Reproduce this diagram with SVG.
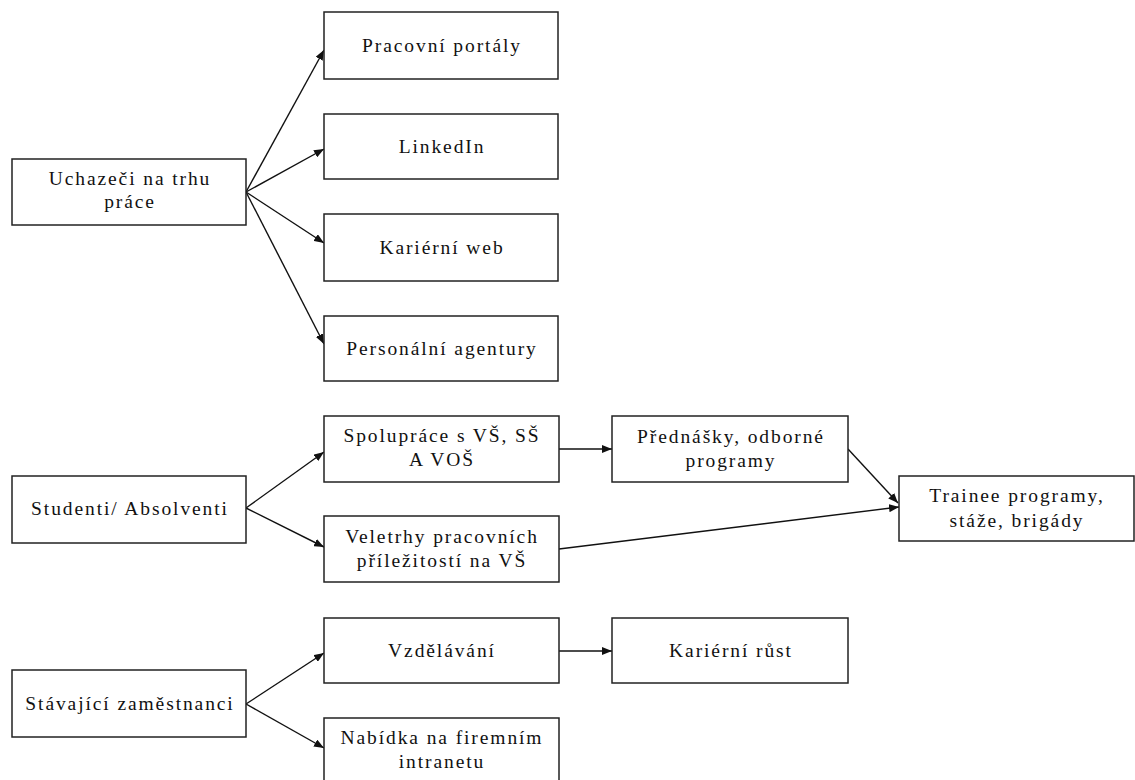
<svg xmlns="http://www.w3.org/2000/svg" width="1135" height="780" viewBox="0 0 1135 780">
<defs>
<marker id="ah" viewBox="0 0 10 8" refX="10" refY="4" markerWidth="10" markerHeight="8" markerUnits="userSpaceOnUse" orient="auto">
<path d="M0,0 L10,4 L0,8 z" fill="#111"/>
</marker>
<style>
.box{fill:#fff;stroke:#222;stroke-width:1.5}
.t{font-family:"Liberation Serif","Times New Roman",serif;font-size:19.5px;letter-spacing:1.9px;fill:#111;text-anchor:middle}
.c{fill:none;stroke:#111;stroke-width:1.4;marker-end:url(#ah)}
</style>
</defs>
<rect width="1135" height="780" fill="#fff"/>
<g id="connectors">
<line class="c" x1="246" y1="192" x2="324" y2="50"/>
<line class="c" x1="246" y1="192" x2="324" y2="149"/>
<line class="c" x1="246" y1="192" x2="324" y2="243"/>
<line class="c" x1="246" y1="192" x2="324" y2="344"/>
<line class="c" x1="246" y1="508" x2="324" y2="452"/>
<line class="c" x1="246" y1="508" x2="324" y2="547"/>
<line class="c" x1="559" y1="449" x2="612" y2="449"/>
<line class="c" x1="848" y1="449" x2="898" y2="503"/>
<line class="c" x1="559" y1="549" x2="899" y2="507"/>
<line class="c" x1="246" y1="704" x2="324" y2="653"/>
<line class="c" x1="246" y1="704" x2="324" y2="748"/>
<line class="c" x1="559" y1="651" x2="612" y2="651"/>
</g>
<g id="uchazeci"><rect class="box" x="12" y="159" width="234" height="66"/><text class="t" x="130" y="185">Uchazeči na trhu</text><text class="t" x="130" y="208">práce</text></g>
<g id="portaly"><rect class="box" x="324" y="12" width="234" height="67"/><text class="t" x="442" y="52">Pracovní portály</text></g>
<g id="linkedin"><rect class="box" x="324" y="114" width="234" height="65"/><text class="t" x="442" y="153">LinkedIn</text></g>
<g id="karierni-web"><rect class="box" x="324" y="214" width="234" height="67"/><text class="t" x="442" y="254">Kariérní web</text></g>
<g id="agentury"><rect class="box" x="324" y="316" width="234" height="65"/><text class="t" x="442" y="355">Personální agentury</text></g>
<g id="studenti"><rect class="box" x="12" y="476" width="234" height="67"/><text class="t" x="130" y="515">Studenti/ Absolventi</text></g>
<g id="spoluprace"><rect class="box" x="324" y="416" width="235" height="66"/><text class="t" x="442" y="442">Spolupráce s VŠ, SŠ</text><text class="t" x="442" y="466">A VOŠ</text></g>
<g id="veletrhy"><rect class="box" x="324" y="516" width="235" height="66"/><text class="t" x="442" y="543">Veletrhy pracovních</text><text class="t" x="442" y="567">příležitostí na VŠ</text></g>
<g id="prednasky"><rect class="box" x="612" y="416" width="236" height="66"/><text class="t" x="731" y="443">Přednášky, odborné</text><text class="t" x="731" y="467">programy</text></g>
<g id="trainee"><rect class="box" x="899" y="476" width="235" height="65"/><text class="t" x="1017" y="502">Trainee programy,</text><text class="t" x="1017" y="527">stáže, brigády</text></g>
<g id="stavajici"><rect class="box" x="12" y="670" width="234" height="67"/><text class="t" x="130" y="710">Stávající zaměstnanci</text></g>
<g id="vzdelavani"><rect class="box" x="324" y="618" width="235" height="65"/><text class="t" x="442" y="657">Vzdělávání</text></g>
<g id="rust"><rect class="box" x="612" y="618" width="236" height="65"/><text class="t" x="731" y="657">Kariérní růst</text></g>
<g id="nabidka"><rect class="box" x="324" y="718" width="235" height="70"/><text class="t" x="442" y="744">Nabídka na firemním</text><text class="t" x="442" y="768">intranetu</text></g>
</svg>
